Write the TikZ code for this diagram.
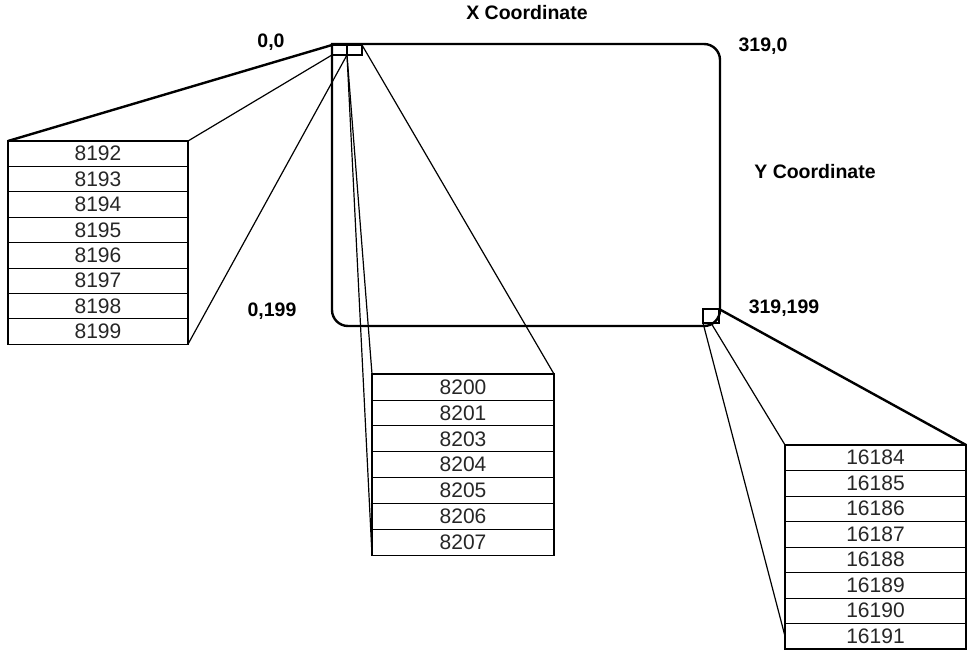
\documentclass[tikz,border=0pt]{standalone}
\usepackage{fontspec}
\setmainfont{Liberation Sans}
\usetikzlibrary{positioning}

\begin{document}
\begin{tikzpicture}[
  x=1pt, y=-1pt,
  cell/.style={rectangle, draw, line width=0.8pt, minimum width=180pt, minimum height=25.4pt, inner sep=0pt, outer sep=0pt, text=black!85, font=\fontsize{21}{21}\selectfont},
  pixel/.style={rectangle, draw, line width=1.3pt, minimum width=15pt, minimum height=10pt, inner sep=0pt, outer sep=0pt},
  coordlabel/.style={font=\fontsize{19.5}{19.5}\selectfont\bfseries},
  screen/.style={line width=2.4pt, rounded corners=16pt, line cap=rect},
  link/.style={line width=1.2pt},
  heavylink/.style={line width=2.4pt},
  tablebox/.style={line width=1.4pt},
]
\useasboundingbox (0,0) rectangle (968,653);

% screen outline
\draw[screen] (332,44) -- (720,44) -- (720,326) -- (332,326) -- (332,44);

% pixels at the corners
\node[pixel] (pxa) at (339.5,50) {};
\node[pixel, right=0pt of pxa] (pxb) {};
\node[pixel, minimum width=16pt, minimum height=14pt] (pxc) at (711,316) {};

% labels
\node[coordlabel] (xlab) at (527,13) {X Coordinate};
\node[coordlabel] (ylab) at (815,172) {Y Coordinate};
\node[coordlabel] (tl) at (271,42) {0,0};
\node[coordlabel] (tr) at (763,46) {319,0};
\node[coordlabel] (bl) at (272,311) {0,199};
\node[coordlabel] (br) at (784,308) {319,199};

% first row of memory
\node[cell] (l1) at (98,153.7) {8192};
\node[cell, below=0pt of l1] (l2) {8193};
\node[cell, below=0pt of l2] (l3) {8194};
\node[cell, below=0pt of l3] (l4) {8195};
\node[cell, below=0pt of l4] (l5) {8196};
\node[cell, below=0pt of l5] (l6) {8197};
\node[cell, below=0pt of l6] (l7) {8198};
\node[cell, below=0pt of l7] (l8) {8199};
\draw[tablebox] (l1.north west) rectangle (l8.south east);

% next bytes
\node[cell, minimum width=182pt, minimum height=25.9pt] (m1) at (463,387) {8200};
\node[cell, minimum width=182pt, minimum height=25.9pt, below=0pt of m1] (m2) {8201};
\node[cell, minimum width=182pt, minimum height=25.9pt, below=0pt of m2] (m3) {8203};
\node[cell, minimum width=182pt, minimum height=25.9pt, below=0pt of m3] (m4) {8204};
\node[cell, minimum width=182pt, minimum height=25.9pt, below=0pt of m4] (m5) {8205};
\node[cell, minimum width=182pt, minimum height=25.9pt, below=0pt of m5] (m6) {8206};
\node[cell, minimum width=182pt, minimum height=25.9pt, below=0pt of m6] (m7) {8207};
\draw[tablebox] (m1.north west) rectangle (m7.south east);

% last row of memory
\node[cell, minimum width=181pt, minimum height=25.5pt] (r1) at (875.5,457.7) {16184};
\node[cell, minimum width=181pt, minimum height=25.5pt, below=0pt of r1] (r2) {16185};
\node[cell, minimum width=181pt, minimum height=25.5pt, below=0pt of r2] (r3) {16186};
\node[cell, minimum width=181pt, minimum height=25.5pt, below=0pt of r3] (r4) {16187};
\node[cell, minimum width=181pt, minimum height=25.5pt, below=0pt of r4] (r5) {16188};
\node[cell, minimum width=181pt, minimum height=25.5pt, below=0pt of r5] (r6) {16189};
\node[cell, minimum width=181pt, minimum height=25.5pt, below=0pt of r6] (r7) {16190};
\node[cell, minimum width=181pt, minimum height=25.5pt, below=0pt of r7] (r8) {16191};
\draw[tablebox] (r1.north west) rectangle (r8.south east);

% fan-out lines
\draw[heavylink] (pxa.north west) -- (l1.north west);
\draw[link] (pxa.south west) -- (l1.north east);
\draw[link] (pxa.south east) -- (l8.south east);
\draw[link] (pxb.south west) -- (m1.north west);
\draw[link] (pxb.south west) -- (m7.south west);
\draw[link] (pxb.north east) -- (m1.north east);
\draw[heavylink] (pxc.north east) -- (r1.north east);
\draw[link] (pxc.south) -- (r1.north west);
\draw[link] (pxc.south west) -- (r8.west);

\end{tikzpicture}
\end{document}
